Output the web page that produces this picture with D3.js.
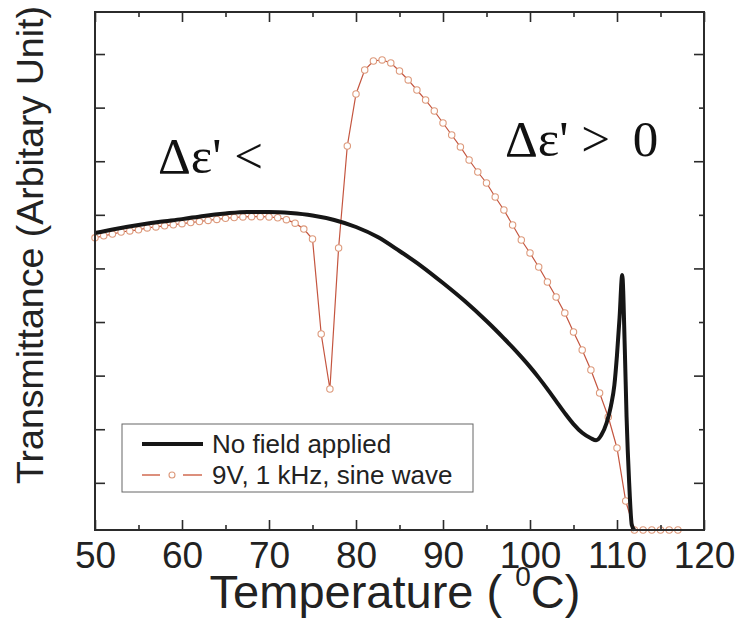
<!DOCTYPE html>
<html><head><meta charset="utf-8">
<script src="https://cdn.jsdelivr.net/npm/d3@7"></script>
<style>body{margin:0;background:#fff}</style>
</head><body><svg id="c" width="739" height="632"></svg>
<script>
// ---- data ----
const xTicks = [50, 60, 70, 80, 90, 100, 110, 120];
const xMinorTicks = [55, 65, 75, 85, 95, 105, 115];
const yMajorTicks = [0.88, 2.88, 4.88, 6.88, 8.88];
const yMinorTicks = [1.88, 3.88, 5.88, 7.88];

const noFieldT = [50, 52.5, 55, 57.5, 60, 62.5, 65, 67.5, 70, 72.5, 75, 77.5, 80, 82.5, 85, 87.5, 90, 92.5, 95, 96, 97, 98, 99, 100, 101, 102, 103, 104, 105, 106, 107, 107.6, 108.2, 108.8, 109.3, 109.7, 110, 110.3, 110.6, 110.9, 111.1, 111.4, 111.7, 112];
const noFieldV = [5.54, 5.62, 5.69, 5.75, 5.80, 5.86, 5.905, 5.933, 5.933, 5.914, 5.868, 5.784, 5.653, 5.466, 5.205, 4.925, 4.608, 4.272, 3.899, 3.741, 3.576, 3.407, 3.229, 3.043, 2.843, 2.629, 2.405, 2.181, 1.976, 1.813, 1.711, 1.674, 1.772, 1.996, 2.313, 2.705, 3.265, 3.974, 4.757, 3.358, 2.108, 0.877, 0.093, 0];

const fieldT = [50, 51, 52, 53, 54, 55, 56, 57, 58, 59, 60, 61, 62, 63, 64, 65, 66, 67, 68, 69, 70, 71, 72, 73, 74, 75, 76, 77, 78, 79, 80, 81, 82, 83, 84, 85, 86, 87, 88, 89, 90, 91, 92, 93, 94, 95, 96, 97, 98, 99, 100, 101, 102, 103, 104, 105, 106, 107, 108, 109, 110, 111, 112, 113, 114, 115, 116, 117];
const fieldV = [5.45, 5.49, 5.52, 5.56, 5.58, 5.60, 5.635, 5.655, 5.675, 5.695, 5.715, 5.735, 5.755, 5.775, 5.795, 5.815, 5.830, 5.840, 5.845, 5.845, 5.840, 5.825, 5.790, 5.725, 5.615, 5.429, 3.657, 2.631, 5.261, 7.164, 8.134, 8.582, 8.750, 8.769, 8.713, 8.563, 8.396, 8.209, 8.022, 7.817, 7.593, 7.369, 7.146, 6.903, 6.679, 6.474, 6.213, 5.970, 5.690, 5.410, 5.168, 4.907, 4.627, 4.347, 4.049, 3.694, 3.358, 2.985, 2.556, 2.108, 1.530, 0.541, 0, 0, 0, 0, 0, 0];

const seriesNames = ["No field applied", "9V, 1 kHz, sine wave"];
const xTitle = "Temperature ( ";
const yTitle = "Transmittance (Arbitary Unit)";

// ---- layout ----
const svg = d3.select("#c");
const L = 95, R = 704, T = 12, B = 530;
const x = d3.scaleLinear().domain([50, 120]).range([L, R]);
const y = d3.scaleLinear().domain([0, 9.664]).range([B, T]);
const sans = "'Liberation Sans', Arial, Helvetica, sans-serif";
const serif = "'Liberation Serif', 'Times New Roman', serif";
const axisColor = "#2b2b2b";

svg.append("rect").attr("width", 739).attr("height", 632).attr("fill", "#fff");

const noField = noFieldT.map((t, i) => ({t, v: noFieldV[i]}));
const field = fieldT.map((t, i) => ({t, v: fieldV[i]}));

// red curve
svg.append("path").datum(field)
  .attr("d", d3.line().x(d => x(d.t)).y(d => y(d.v)))
  .attr("fill", "none").attr("stroke", "#c4553f").attr("stroke-width", 1.2);
svg.append("g").selectAll("circle").data(field).join("circle")
  .attr("cx", d => x(d.t)).attr("cy", d => y(d.v)).attr("r", 3.2)
  .attr("fill", "#fff").attr("stroke", "#dd9a7c").attr("stroke-width", 1.1);

// black curve
svg.append("path").datum(noField)
  .attr("d", d3.line().x(d => x(d.t)).y(d => y(d.v)).curve(d3.curveMonotoneX))
  .attr("fill", "none").attr("stroke", "#161616").attr("stroke-width", 4).attr("stroke-linejoin", "round");

// axes
function styleAxis(g) {
  g.select(".domain").remove();
  g.selectAll("line").attr("stroke", axisColor).attr("stroke-width", 1.6);
  g.selectAll("text").attr("font-family", sans).attr("font-size", 37).attr("fill", "#222");
}
svg.append("g").attr("transform", `translate(0,${B})`)
  .call(d3.axisBottom(x).tickValues(xTicks).tickSize(-10).tickPadding(12).tickFormat(d3.format("d")))
  .call(styleAxis);
svg.append("g").attr("transform", `translate(0,${B})`)
  .call(d3.axisBottom(x).tickValues(xMinorTicks).tickSize(-5).tickFormat(""))
  .call(styleAxis);
svg.append("g").attr("transform", `translate(0,${T})`)
  .call(d3.axisTop(x).tickValues(xTicks).tickSize(-10).tickFormat(""))
  .call(styleAxis);
svg.append("g").attr("transform", `translate(0,${T})`)
  .call(d3.axisTop(x).tickValues(xMinorTicks).tickSize(-5).tickFormat(""))
  .call(styleAxis);
svg.append("g").attr("transform", `translate(${L},0)`)
  .call(d3.axisLeft(y).tickValues(yMajorTicks.concat(yMinorTicks)).tickSize(-10).tickFormat(""))
  .call(styleAxis);
svg.append("g").attr("transform", `translate(${R},0)`)
  .call(d3.axisRight(y).tickValues(yMajorTicks).tickSize(-10).tickFormat(""))
  .call(styleAxis);
svg.append("g").attr("transform", `translate(${R},0)`)
  .call(d3.axisRight(y).tickValues(yMinorTicks).tickSize(-5).tickFormat(""))
  .call(styleAxis);

// frame
svg.append("rect").attr("x", L).attr("y", T).attr("width", R - L).attr("height", B - T)
  .attr("fill", "none").attr("stroke", axisColor).attr("stroke-width", 2);

// annotations
svg.append("text").attr("x", 158).attr("y", 173).attr("font-family", serif).attr("font-size", 51)
  .attr("fill", "#111").text("Δε' <");
const a2 = svg.append("text").attr("x", 505).attr("y", 156).attr("font-family", serif).attr("font-size", 51)
  .attr("fill", "#111");
a2.append("tspan").text("Δε' >");
a2.append("tspan").attr("dx", 10).text(" 0");

// legend
const lg = svg.append("g");
lg.append("rect").attr("x", 122).attr("y", 424).attr("width", 351).attr("height", 68)
  .attr("fill", "#fff").attr("stroke", "#666").attr("stroke-width", 1);
lg.append("line").attr("x1", 142).attr("x2", 203).attr("y1", 444).attr("y2", 444)
  .attr("stroke", "#161616").attr("stroke-width", 4);
lg.append("line").attr("x1", 142).attr("x2", 160).attr("y1", 475).attr("y2", 475)
  .attr("stroke", "#d06a50").attr("stroke-width", 1.5);
lg.append("line").attr("x1", 183).attr("x2", 202).attr("y1", 475).attr("y2", 475)
  .attr("stroke", "#d06a50").attr("stroke-width", 1.5);
lg.append("circle").attr("cx", 172).attr("cy", 475).attr("r", 3)
  .attr("fill", "#fff").attr("stroke", "#dd9a7c").attr("stroke-width", 1.1);
lg.selectAll("text.lt").data(seriesNames).join("text").attr("class", "lt")
  .attr("x", 212).attr("y", (d, i) => 453 + i * 31)
  .attr("font-family", sans).attr("font-size", 26).attr("fill", "#222").text(d => d);

// axis titles
const xt = svg.append("text").attr("x", 395).attr("y", 608).attr("text-anchor", "middle")
  .attr("font-family", sans).attr("font-size", 47).attr("fill", "#222");
xt.append("tspan").text(xTitle);
xt.append("tspan").attr("font-size", 28).attr("dy", -22).text("0");
xt.append("tspan").attr("dy", 22).text("C)");

svg.append("text").attr("transform", "translate(43,245) rotate(-90)").attr("text-anchor", "middle")
  .attr("font-family", sans).attr("font-size", 37.5).attr("fill", "#222").text(yTitle);
</script>
</body></html>
